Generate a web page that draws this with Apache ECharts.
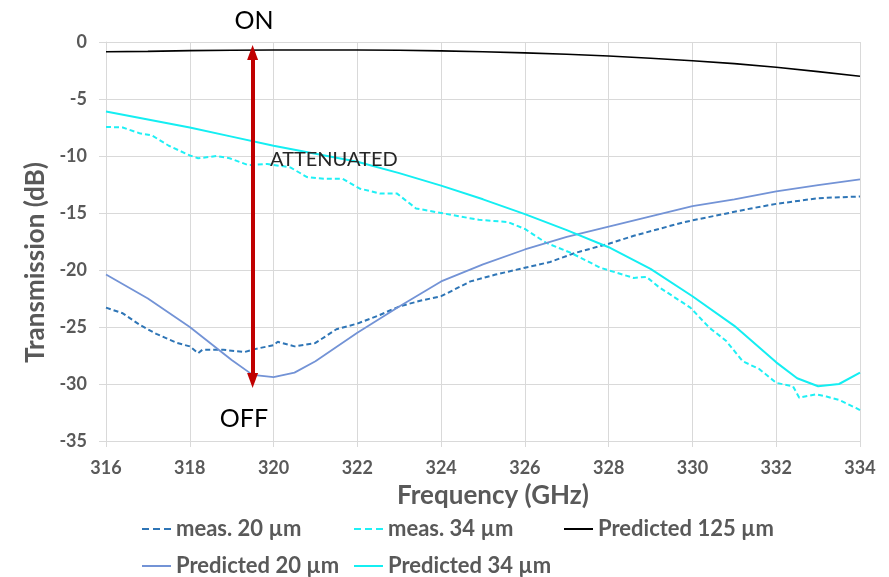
<!DOCTYPE html>
<html>
<head>
<meta charset="utf-8">
<script src="https://cdn.jsdelivr.net/npm/echarts@6/dist/echarts.min.js"></script>
<style>
html,body{margin:0;padding:0;background:#fff;}
#chart{width:889px;height:577px;}
</style>
</head>
<body>
<div id="chart"></div>
<script>
// ---- data ----
const xMin = 316, xMax = 334, xStep = 2;
const yMin = -35, yMax = 0, yStep = 5;

const meas20Freq = [316.0,316.4,316.8,317.2,317.7,318.0,318.2,318.3,318.8,319.3,319.6,320.0,320.1,320.5,321.0,321.5,322.0,322.5,323.0,323.5,324.0,324.7,325.3,326.0,326.6,327.2,328.0,328.6,329.2,329.8,330.6,331.4,332.0,333.0,334.0];
const meas20Vals = [-23.3,-23.8,-24.8,-25.6,-26.4,-26.7,-27.3,-27.0,-27.0,-27.2,-26.9,-26.6,-26.3,-26.7,-26.4,-25.2,-24.7,-24.0,-23.2,-22.7,-22.3,-21.0,-20.4,-19.8,-19.3,-18.5,-17.7,-17.0,-16.4,-15.8,-15.2,-14.6,-14.2,-13.7,-13.55];

const meas34Freq = [316.0,316.4,316.8,317.1,317.5,318.0,318.2,318.65,318.95,319.4,319.85,320.4,320.8,321.2,321.65,322.05,322.55,322.95,323.4,324.0,324.9,325.6,326.0,326.5,327.1,327.8,328.6,328.9,329.2,329.95,330.4,330.8,331.2,331.6,332.0,332.4,332.55,332.95,333.2,333.5,333.9,334.0];
const meas34Vals = [-7.45,-7.5,-8.0,-8.2,-9.1,-9.95,-10.2,-10.0,-10.2,-10.8,-10.7,-11.0,-11.85,-12.0,-12.0,-12.85,-13.3,-13.3,-14.6,-15.0,-15.6,-15.8,-16.4,-17.6,-18.5,-19.8,-20.7,-20.6,-21.5,-23.3,-25.05,-26.2,-28.0,-28.7,-29.9,-30.2,-31.2,-30.9,-31.1,-31.4,-32.1,-32.3];

const pred125Freq = [316,317,318,319,320,321,322,323,324,325,326,327,328,329,330,331,332,333,334];
const pred125Vals = [-0.85,-0.82,-0.76,-0.72,-0.7,-0.7,-0.7,-0.72,-0.78,-0.86,-0.95,-1.08,-1.23,-1.42,-1.64,-1.9,-2.22,-2.6,-3.0];

const pred20Freq = [316,317,318,319,319.5,320,320.5,321,322,323,324,325,326,327,328,329,330,331,332,333,334];
const pred20Vals = [-20.4,-22.5,-25.0,-27.9,-29.2,-29.4,-29.0,-28.0,-25.5,-23.2,-21.0,-19.5,-18.2,-17.1,-16.2,-15.3,-14.4,-13.8,-13.1,-12.55,-12.05];

const pred34Freq = [316,317,318,319,320,321,322,323,324,325,326,327,328,329,330,331,332,332.5,333,333.5,334];
const pred34Vals = [-6.1,-6.8,-7.5,-8.3,-9.1,-9.8,-10.5,-11.5,-12.6,-13.8,-15.1,-16.5,-18.0,-19.9,-22.3,-24.9,-28.1,-29.5,-30.2,-30.0,-29.0];

const seriesNames = ['meas. 20 µm','meas. 34 µm','Predicted 125 µm','Predicted 20 µm','Predicted 34 µm'];

// annotation (double arrow, ON / OFF) in data units
const arrowFreq = 319.5;
const arrowTop = -0.92;
const arrowBottom = -29.7;

// ---- chart ----
const pairs = (xs, ys) => xs.map((x, i) => [x, ys[i]]);
const FONT = 'Lato, "Open Sans", sans-serif';
const GRAY = '#595959';

const chart = echarts.init(document.getElementById('chart'), null, {renderer: 'canvas'});

function legendAt(name, left, top, dashed) {
  const l = {
    data: [name], left: left, top: top, orient: 'horizontal',
    itemWidth: 29, itemHeight: 12, padding: 0,
    selectedMode: false,
    itemStyle: {opacity: 0},
    textStyle: {fontFamily: FONT, fontWeight: 'bold', fontSize: 22, color: GRAY}
  };
  if (dashed) l.lineStyle = {type: [7, 4]};
  return l;
}

const option = {
  animation: false,
  backgroundColor: '#ffffff',
  grid: {left: 106, right: 29, top: 42, bottom: 136, containLabel: false},
  xAxis: {
    type: 'value', min: xMin, max: xMax, interval: xStep,
    name: 'Frequency (GHz)', nameLocation: 'middle', nameGap: 42,
    nameTextStyle: {fontFamily: FONT, fontWeight: 'bold', fontSize: 26, color: GRAY, padding: [0, 0, 0, 20]},
    axisLine: {show: true, onZero: false, lineStyle: {color: '#d9d9d9', width: 1}},
    axisTick: {show: true, length: 6, lineStyle: {color: '#d9d9d9'}},
    axisLabel: {fontFamily: FONT, fontWeight: 'bold', fontSize: 18, color: GRAY, margin: 18},
    splitLine: {show: true, lineStyle: {color: '#d9d9d9', width: 1}}
  },
  yAxis: {
    type: 'value', min: yMin, max: yMax, interval: yStep,
    name: 'Transmission (dB)', nameLocation: 'middle', nameGap: 57,
    nameTextStyle: {fontFamily: FONT, fontWeight: 'bold', fontSize: 26, color: GRAY, padding: [0, 42, 0, 0]},
    axisLine: {show: true, onZero: false, lineStyle: {color: '#d9d9d9', width: 1}},
    axisTick: {show: true, length: 7, lineStyle: {color: '#d9d9d9'}},
    axisLabel: {fontFamily: FONT, fontWeight: 'bold', fontSize: 18, color: GRAY, margin: 19},
    splitLine: {show: true, lineStyle: {color: '#d9d9d9', width: 1}}
  },
  legend: [
    legendAt(seriesNames[0], 141, 518, true),
    legendAt(seriesNames[1], 353, 518, true),
    legendAt(seriesNames[2], 563, 518, false),
    legendAt(seriesNames[3], 141, 555, false),
    legendAt(seriesNames[4], 353, 555, false)
  ],
  series: [
    {
      name: seriesNames[0], type: 'line', showSymbol: false, symbol: 'none',
      data: pairs(meas20Freq, meas20Vals), color: '#2E75B6',
      lineStyle: {color: '#2E75B6', width: 2, type: [5, 3]}, z: 3
    },
    {
      name: seriesNames[1], type: 'line', showSymbol: false, symbol: 'none',
      data: pairs(meas34Freq, meas34Vals), color: '#1FF0F5',
      lineStyle: {color: '#1FF0F5', width: 2, type: [5, 3]}, z: 3
    },
    {
      name: seriesNames[2], type: 'line', showSymbol: false, symbol: 'none',
      data: pairs(pred125Freq, pred125Vals), color: '#000000',
      lineStyle: {color: '#000000', width: 1.6}, z: 3,
      markLine: {
        silent: true, animation: false,
        symbol: ['triangle', 'triangle'], symbolSize: [11, 15],
        label: {show: false},
        lineStyle: {color: '#C00000', width: 4, type: 'solid'},
        emphasis: {disabled: true},
        data: [[{coord: [arrowFreq, arrowTop]}, {coord: [arrowFreq, arrowBottom]}]],
        z: 10
      }
    },
    {
      name: seriesNames[3], type: 'line', showSymbol: false, symbol: 'none',
      data: pairs(pred20Freq, pred20Vals), color: '#7393D6',
      lineStyle: {color: '#7393D6', width: 1.8}, z: 3
    },
    {
      name: seriesNames[4], type: 'line', showSymbol: false, symbol: 'none',
      data: pairs(pred34Freq, pred34Vals), color: '#14EEF2',
      lineStyle: {color: '#14EEF2', width: 2}, z: 3
    }
  ],
  graphic: [
    {type: 'text', x: 254, y: 21, z: 20,
     style: {text: 'ON', font: '25px ' + FONT, fill: '#000', align: 'center', verticalAlign: 'middle'}},
    {type: 'text', x: 244, y: 419, z: 20,
     style: {text: 'OFF', font: '25px ' + FONT, fill: '#000', align: 'center', verticalAlign: 'middle'}},
    {type: 'text', x: 270, y: 160, z: 20,
     style: {text: 'ATTENUATED', font: '20px ' + FONT, fill: '#262626', align: 'left', verticalAlign: 'middle'}}
  ]
};
chart.setOption(option);
</script>
</body>
</html>
